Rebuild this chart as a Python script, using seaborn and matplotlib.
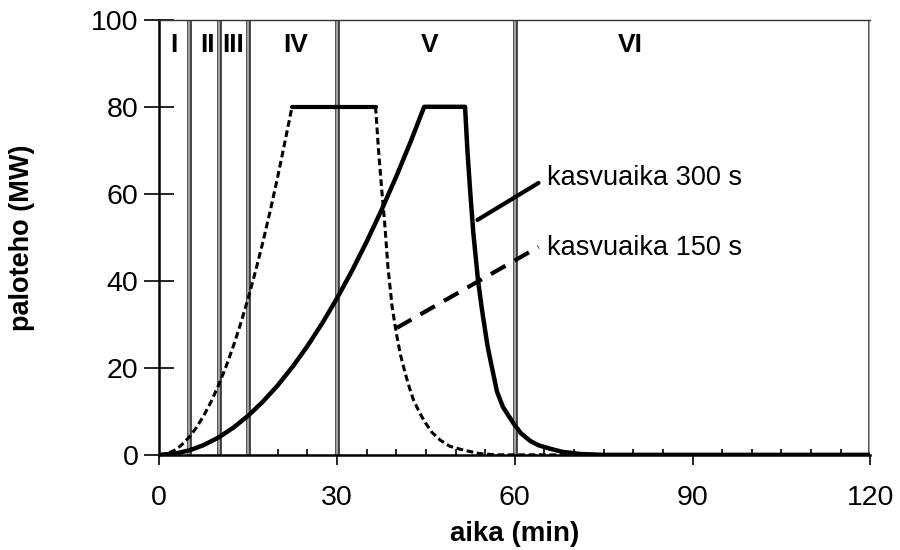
import numpy as np
import pandas as pd
import matplotlib
matplotlib.use('Agg')
import matplotlib.pyplot as plt
import seaborn as sns

# aika (min) ja paloteho (MW), luettu kuvasta
t_150 = [0, 1.25, 2.5, 3.75, 5, 6.25, 7.5, 8.75, 10, 11.25, 12.5, 13.75,
         15, 16.25, 17.5, 18.75, 20, 21.25, 22.4,
         36.5, 37.0, 37.6, 38.0, 38.6, 39.3, 40.0, 40.7, 41.5, 42.2, 42.9,
         44.0, 44.9, 46.0, 47.4, 49.0, 51.3, 54.0, 57.0, 60.0, 120.0]
q_150 = [0, 0.25, 1.0, 2.25, 4.0, 6.25, 9.0, 12.25, 16.0, 20.25, 25.0, 30.25,
         36.0, 42.25, 49.0, 56.25, 64.0, 72.25, 80.0,
         80.0, 70.0, 60.0, 54.0, 43.0, 34.0, 28.0, 23.0, 18.8, 15.5, 12.6,
         9.5, 7.4, 5.2, 3.4, 2.0, 1.1, 0.3, 0, 0, 0]

t_300 = [0, 2.5, 5, 7.5, 10, 12.5, 15, 17.5, 20, 22.5, 25, 27.5, 30, 32.5,
         35, 37.5, 40, 42.5, 44.7,
         51.6, 52.0, 52.5, 53.0, 53.8, 54.5, 55.4, 56.0, 57.0, 58.0,
         59.8, 61.0, 62.6, 64.0, 66.0, 68.0, 71.0, 75.0, 120.0]
q_300 = [0, 0.25, 1.0, 2.25, 4.0, 6.25, 9.0, 12.25, 16.0, 20.25, 25.0, 30.25,
         36.0, 42.25, 49.0, 56.25, 64.0, 72.25, 80.0,
         80.0, 70.0, 60.0, 51.0, 40.0, 33.0, 25.0, 21.0, 14.5, 11.0,
         7.2, 5.0, 3.2, 2.2, 1.4, 0.7, 0.2, 0, 0]

# vaiheiden rajat ja nimet
phase_bounds = [5, 10, 15, 30, 60, 120]
phase_names = ['I', 'II', 'III', 'IV', 'V', 'VI']
phase_label_x = [2.4, 8.1, 12.5, 23, 45.7, 79.5]

sns.set_style('white')
plt.rcParams['font.family'] = ['Liberation Sans', 'DejaVu Sans']
plt.rcParams['text.color'] = 'black'
plt.rcParams['axes.labelcolor'] = 'black'
plt.rcParams['xtick.color'] = 'black'
plt.rcParams['ytick.color'] = 'black'

fig = plt.figure(figsize=(9, 5.5), dpi=100)
ax = fig.add_axes([0.177, 0.173, 0.790, 0.791])

for xb in phase_bounds:
    ax.axvline(xb, color='#333333', lw=3.4, zorder=1)
    ax.axvline(xb, color='#a0a0a0', lw=1.6, zorder=1.1)

df150 = pd.DataFrame({'t': t_150, 'q': q_150})
df300 = pd.DataFrame({'t': t_300, 'q': q_300})

sns.lineplot(data=df150, x='t', y='q', ax=ax, color='black', lw=2.2,
             linestyle=(0, (2.2, 1.2)), zorder=3)
plat = df150[df150['q'] >= 80]
sns.lineplot(data=plat, x='t', y='q', ax=ax, color='black', lw=3, zorder=4)
sns.lineplot(data=df300, x='t', y='q', ax=ax, color='black', lw=3.2, zorder=4)

# selitteet
ax.plot([53.7, 64.0], [54.0, 62.5], color='black', lw=3, zorder=5)
ax.plot([40.1, 64.0], [29.2, 47.8], color='black', lw=3,
        linestyle=(0, (4, 2.5)), zorder=5)
ax.text(65.5, 63.7, 'kasvuaika 300 s', fontsize=19.5, va='center', ha='left')
ax.text(65.5, 47.6, 'kasvuaika 150 s', fontsize=19.5, va='center', ha='left')

for name, xl in zip(phase_names, phase_label_x):
    ax.text(xl, 94.3, name, fontsize=19, fontweight='bold',
            ha='center', va='center')

ax.set_xlim(0, 120)
ax.set_ylim(0, 100)
ax.set_xticks([0, 30, 60, 90, 120])
ax.set_xticks(np.arange(0, 121, 5), minor=True)
ax.set_yticks([0, 20, 40, 60, 80, 100])
ax.tick_params(axis='x', which='major', direction='out', length=7, width=1.2,
               labelsize=20.5, pad=15, bottom=True)
ax.tick_params(axis='x', which='minor', direction='in', length=4, width=1.2,
               bottom=True)
ax.tick_params(axis='y', which='major', direction='inout', length=22, width=1.2,
               labelsize=20.5, pad=4, left=True)

for side in ['left', 'bottom']:
    ax.spines[side].set_color('black')
    ax.spines[side].set_linewidth(1.8)
ax.spines['top'].set_color('#333333')
ax.spines['top'].set_linewidth(1.0)
ax.spines['right'].set_visible(False)

ax.set_xlabel('aika (min)', fontsize=20, fontweight='bold', labelpad=7)
ax.set_ylabel('paloteho (MW)', fontsize=19.5, fontweight='bold', labelpad=40)

fig.savefig('out.png', dpi=100)
